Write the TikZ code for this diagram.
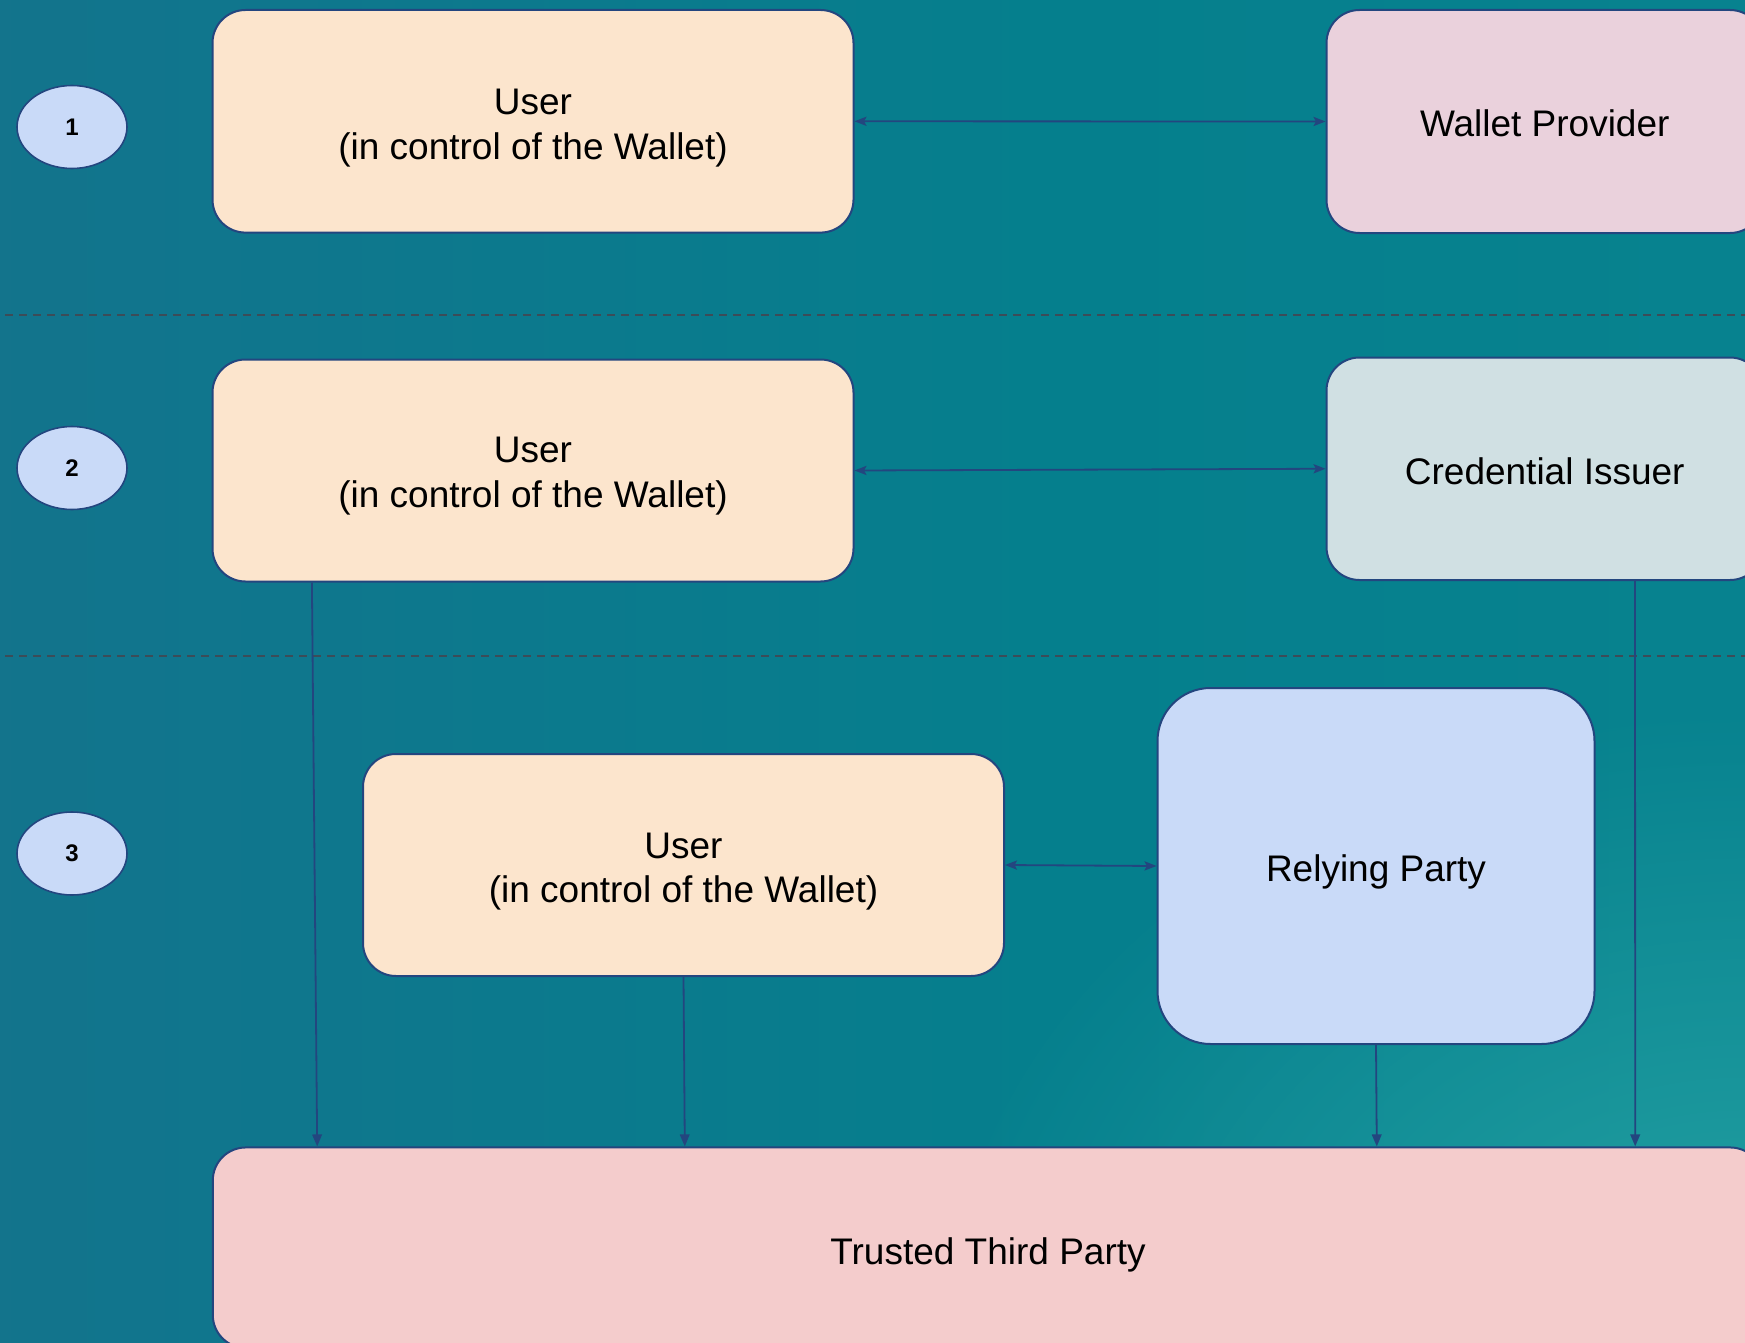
\documentclass[tikz,border=0pt]{standalone}
\usepackage{fontspec}
\setmainfont{Liberation Sans}
\usetikzlibrary{arrows.meta,shapes.geometric,fadings}

\definecolor{edge}{HTML}{23467F}
\definecolor{peach}{HTML}{FCE5CD}
\definecolor{mauve}{HTML}{EAD1DC}
\definecolor{sage}{HTML}{D0E0E3}
\definecolor{sky}{HTML}{C9DAF8}
\definecolor{rose}{HTML}{F4CCCC}
\definecolor{bgleft}{HTML}{1E6A8C}
\definecolor{bgmid}{HTML}{057F8D}
\definecolor{bgright}{HTML}{0A8691}
\definecolor{glow}{HTML}{2AA8A7}
\definecolor{divider}{HTML}{3C4C58}

% backdrop: blue-teal on the left, teal towards the right
\pgfdeclarehorizontalshading{backdrop}{100bp}{color(0bp)=(bgleft); color(55bp)=(bgmid); color(100bp)=(bgright)}
\tikzfading[name=glowfade, inner color=transparent!0, outer color=transparent!100]

% lower a label's ink without changing its box
\newcommand\droplabel[2]{\raisebox{-#1}[\height][\depth]{\begin{tabular}{@{}c@{}}#2\end{tabular}}}

\tikzset{
  box/.style={draw=edge, line width=1pt, rounded corners=16.5pt,
    inner sep=0pt, font=\fontsize{18.5}{22.25}\selectfont},
  stage/.style={ellipse, draw=edge, fill=sky, line width=0.8pt, inner sep=0pt,
    minimum width=55pt, minimum height=41.5pt, font=\bfseries\fontsize{12}{14}\selectfont},
  link/.style={draw=edge, line width=0.9pt,
    {Stealth[length=6pt,width=4.6pt,inset=1.2pt]}-{Stealth[length=6pt,width=4.6pt,inset=1.2pt]}},
  feed/.style={draw=edge, line width=0.9pt, -{Triangle[length=6pt,width=4.8pt]}},
  divline/.style={draw=divider, line width=0.6pt, dash pattern=on 4pt off 3pt},
}

\begin{document}
\begin{tikzpicture}[x=0.5pt, y=-0.5pt]
\useasboundingbox (0,0) rectangle (1745,1343);
\begin{scope}
\clip (0,0) rectangle (1745,1343);

% background
\fill[shading=backdrop] (0,0) rectangle (1745,1343);
\fill[glow, path fading=glowfade, opacity=0.85] (1745,1343) ellipse (820 and 640);

% section dividers
\coordinate (d1a) at (5,315);  \coordinate (d1b) at (1745,315);
\coordinate (d2a) at (5,656);  \coordinate (d2b) at (1745,656);
\draw[divline] (d1a) -- (d1b);
\draw[divline] (d2a) -- (d2b);

% step markers
\node[stage] (e1) at (72,127) {1};
\node[stage] (e2) at (72,468) {2};
\node[stage] (e3) at (72,853.5) {3};

% row 1
\node[box, fill=peach, minimum width=320.5pt, minimum height=111.3pt] (u1) at (533,121.3)
  {\droplabel{3.3pt}{User\\(in control of the Wallet)}};
\node[box, fill=mauve, minimum width=218.25pt, minimum height=111.5pt] (wp) at (1544.75,121.5)
  {\droplabel{2.8pt}{Wallet Provider}};

% row 2
\node[box, fill=peach, minimum width=320.5pt, minimum height=111pt] (u2) at (533,470.5)
  {\droplabel{2.8pt}{User\\(in control of the Wallet)}};
\node[box, fill=sage, minimum width=218.25pt, minimum height=111.25pt] (ci) at (1544.75,468.75)
  {\droplabel{3.3pt}{Credential Issuer}};

% row 3
\node[box, fill=peach, minimum width=320.5pt, minimum height=111pt] (u3) at (683.5,865)
  {\droplabel{3.3pt}{User\\(in control of the Wallet)}};
\node[box, fill=sky, rounded corners=26.5pt, minimum width=218.5pt, minimum height=178pt] (rp) at (1376,866)
  {\droplabel{3.3pt}{Relying Party}};

% trusted third party
\node[box, fill=rose, minimum width=775.2pt, minimum height=100.25pt] (ttp) at (988,1247.7)
  {\droplabel{3.9pt}{Trusted Third Party}};

% interactions
\draw[link] (u1.east) -- (wp.west);
\draw[link] (u2.east) -- (ci.west);
\draw[link] (u3.east) -- (rp.west);

\draw[feed] ([xshift=50.2pt]u2.south west) -- ([xshift=52.7pt]ttp.north west);
\draw[feed] (u3.south) -- ([xshift=236.5pt]ttp.north west);
\draw[feed] (rp.south) -- ([xshift=582.5pt]ttp.north west);
\draw[feed] ([xshift=154.75pt]ci.south west) -- ([xshift=711.7pt]ttp.north west);
\end{scope}
\end{tikzpicture}
\end{document}
